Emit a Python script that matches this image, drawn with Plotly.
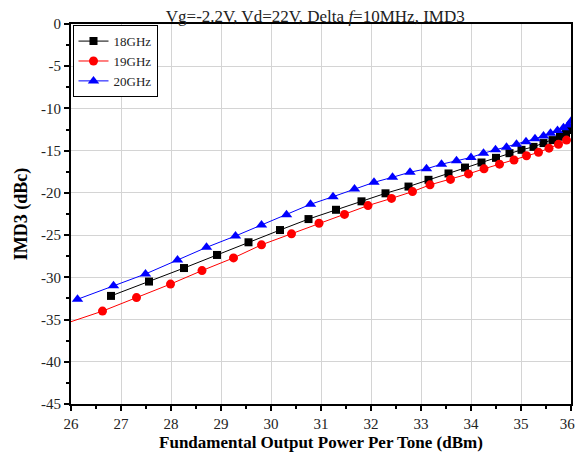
import plotly.graph_objects as go

# 18 GHz
x18 = [26.8, 27.56, 28.26, 28.92, 29.55, 30.18, 30.75, 31.3, 31.81, 32.29, 32.75, 33.15,
       33.55, 33.88, 34.21, 34.5, 34.77, 35.01, 35.25, 35.45, 35.63, 35.78, 35.9, 35.99]
y18 = [-32.2, -30.5, -28.9, -27.35, -25.85, -24.4, -23.1, -22.0, -21.0, -20.05, -19.25, -18.45,
       -17.7, -17.0, -16.4, -15.85, -15.3, -14.9, -14.55, -14.1, -13.75, -13.35, -12.95, -12.55]

# 19 GHz
x19 = [25.9, 26.63, 27.31, 27.99, 28.62, 29.25, 29.81, 30.41, 30.96, 31.47, 31.94, 32.41, 32.83,
       33.18, 33.59, 33.95, 34.26, 34.57, 34.86, 35.11, 35.35, 35.56, 35.75, 35.91]
y19 = [-35.45, -34.0, -32.4, -30.8, -29.2, -27.7, -26.15, -24.85, -23.6, -22.55, -21.5, -20.65, -19.85,
       -19.05, -18.4, -17.75, -17.15, -16.6, -16.1, -15.6, -15.2, -14.7, -14.25, -13.75]

# 20 GHz
x20 = [26.13, 26.85, 27.49, 28.13, 28.71, 29.29, 29.81, 30.31, 30.79, 31.24, 31.67, 32.06, 32.43,
       32.78, 33.11, 33.41, 33.71, 34.0, 34.25, 34.49, 34.71, 34.91, 35.1, 35.28, 35.45, 35.59,
       35.73, 35.85, 35.95, 36.01]
y20 = [-32.6, -31.0, -29.6, -27.95, -26.45, -25.1, -23.8, -22.6, -21.35, -20.45, -19.55, -18.75, -18.15,
       -17.55, -17.15, -16.6, -16.2, -15.8, -15.3, -14.9, -14.6, -14.25, -13.95, -13.6, -13.25, -12.95,
       -12.6, -12.3, -11.95, -11.45]

x_ticks = [26, 27, 28, 29, 30, 31, 32, 33, 34, 35, 36]
x_ticktext = ["26", "27", "28", "29", "30", "31", "32", "33", "34", "35", "36\u00a0\u00a0"]
y_ticks = [0, -5, -10, -15, -20, -25, -30, -35, -40, -45]

title_text = "Vg=-2.2V, Vd=22V, Delta <i>f</i>=10MHz, IMD3"
x_title = "<b>Fundamental Output Power Per Tone (dBm)</b>"
y_title = "<b>IMD3 (dBc)</b>"

fig = go.Figure()
fig.add_trace(go.Scatter(x=x18, y=y18, name="18GHz", mode="lines+markers",
                         line=dict(color="black", width=1),
                         marker=dict(symbol="square", size=8, color="black")))
fig.add_trace(go.Scatter(x=x19, y=y19, name="19GHz", mode="lines+markers",
                         line=dict(color="red", width=1),
                         marker=dict(symbol="circle", size=9, color="red")))
fig.add_trace(go.Scatter(x=x20, y=y20, name="20GHz", mode="lines+markers",
                         line=dict(color="blue", width=1),
                         marker=dict(symbol="triangle-up", size=10, color="blue")))

axis_common = dict(showline=True, linecolor="black", linewidth=2, mirror=True,
                   ticks="outside", ticklen=5, tickwidth=1.5, tickcolor="black",
                   showgrid=True, gridcolor="#d4d4d4", gridwidth=1, zeroline=False,
                   automargin=False, ticklabeloverflow="allow",
                   tickfont=dict(family="Liberation Serif", size=15, color="#222"))

fig.update_xaxes(range=[26, 36], tickvals=x_ticks, ticktext=x_ticktext,
                 minor=dict(dtick=0.5, tick0=26, ticks="outside", ticklen=3, tickcolor="black", showgrid=False),
                 title=dict(text=x_title, font=dict(family="Liberation Serif", size=17, color="black"), standoff=5),
                 **axis_common)
fig.update_yaxes(range=[-45, 0], tickvals=y_ticks, ticktext=[str(v) for v in y_ticks],
                 minor=dict(dtick=2.5, tick0=0, ticks="outside", ticklen=3, tickcolor="black", showgrid=False),
                 title=dict(text=y_title, font=dict(family="Liberation Serif", size=18, color="black"), standoff=9),
                 **axis_common)

fig.update_layout(
    width=569, height=444,
    margin=dict(l=63, r=6, t=16, b=48),
    paper_bgcolor="white", plot_bgcolor="white",
    title=dict(text=title_text, x=0.54, xanchor="center", y=0.982, yanchor="middle",
               font=dict(family="Liberation Serif", size=17, color="#222")),
    legend=dict(x=0.003, y=0.997, xanchor="left", yanchor="top",
                bgcolor="white", bordercolor="black", borderwidth=1,
                font=dict(family="Liberation Serif", size=13, color="#222"),
                itemwidth=30, tracegroupgap=0),
    showlegend=True,
)

fig.write_html("out.html")
